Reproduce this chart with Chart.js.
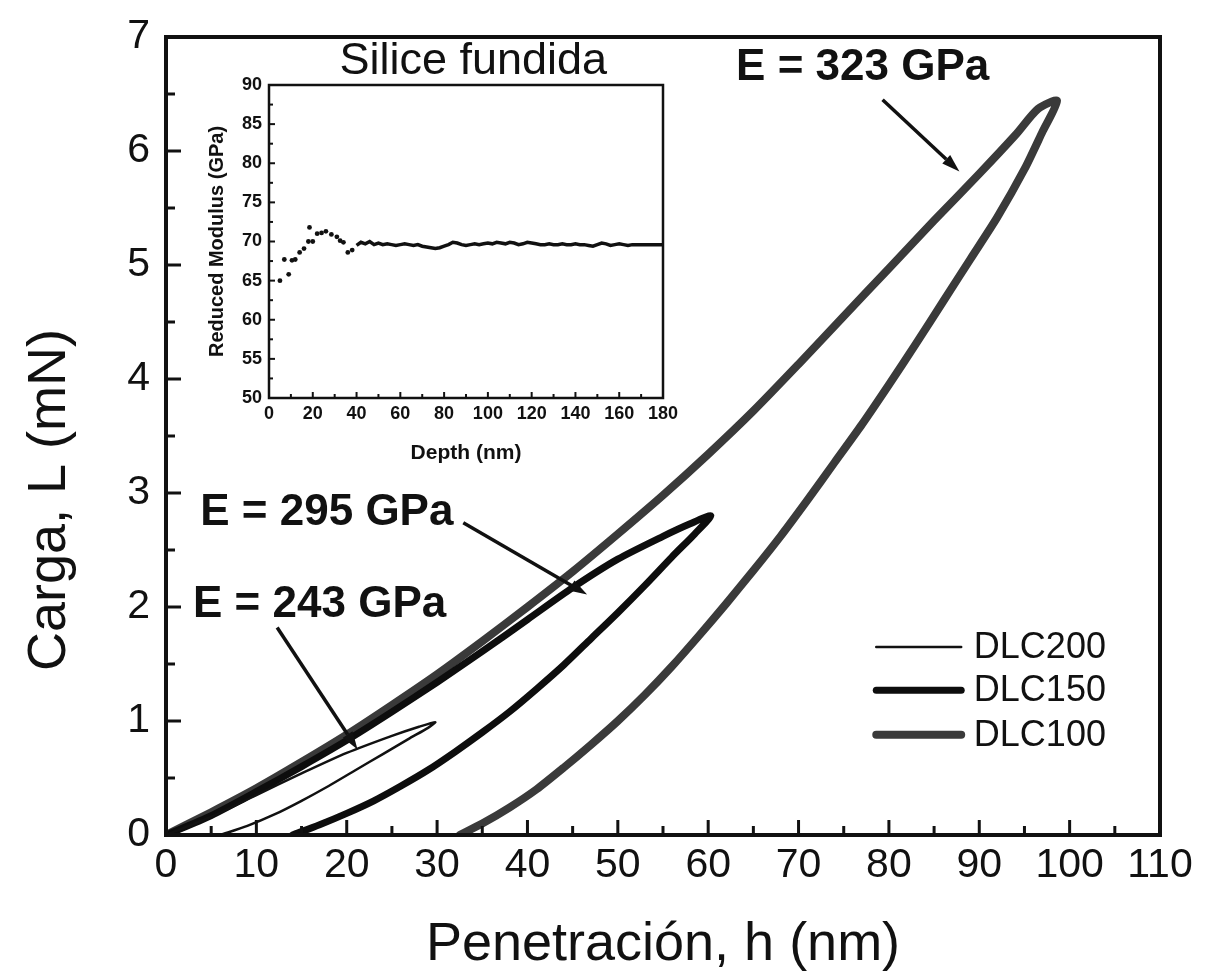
<!DOCTYPE html>
<html>
<head>
<meta charset="utf-8">
<script src="https://cdn.jsdelivr.net/npm/chart.js@4.4.1/dist/chart.umd.min.js"></script>
<style>
  body { margin: 0; background: #fff; }
  #wrap { position: relative; width: 1206px; height: 976px; }
  #main { position: absolute; left: 0; top: 0; }
  #inset { position: absolute; left: 190px; top: 60px; }
</style>
</head>
<body>
<div id="wrap">
  <canvas id="main" width="1206" height="976"></canvas>
  <canvas id="inset" width="510" height="415"></canvas>
</div>
<script>
// ---- data: load-unload curves (h in nm, L in mN), loading then unloading ----
const dlc200H = [0, 5, 10, 15, 20, 25, 28, 29.8, 29, 27, 24, 21, 18, 15, 12, 9, 6];
const dlc200L = [0, 0.16, 0.35, 0.54, 0.72, 0.87, 0.95, 0.99, 0.94, 0.85, 0.71, 0.57, 0.43, 0.30, 0.18, 0.08, 0];

const dlc150H = [0, 5, 10, 15, 20, 25, 30, 35, 40, 45, 50, 55, 58, 60.3, 58.5, 56, 53, 50, 47, 44, 41, 38, 35, 32, 29, 26, 23, 20, 17, 14];
const dlc150L = [0, 0.17, 0.38, 0.60, 0.83, 1.08, 1.34, 1.61, 1.89, 2.17, 2.42, 2.62, 2.73, 2.80, 2.64, 2.44, 2.19, 1.95, 1.72, 1.49, 1.28, 1.08, 0.90, 0.73, 0.57, 0.43, 0.30, 0.19, 0.09, 0];

const dlc100H = [0, 5, 10, 15, 20, 25, 30, 35, 40, 45, 50, 55, 60, 65, 70, 75, 80, 85, 90, 94, 96.5, 98.6, 97, 95, 92, 89, 86, 83, 80, 77, 74, 71, 68, 65, 62, 59, 56, 53, 50, 47, 44, 41, 38, 35, 32.5];
const dlc100L = [0, 0.20, 0.41, 0.64, 0.88, 1.14, 1.41, 1.70, 2.00, 2.31, 2.64, 2.98, 3.34, 3.72, 4.13, 4.55, 4.97, 5.39, 5.80, 6.14, 6.37, 6.44, 6.17, 5.84, 5.42, 5.05, 4.68, 4.31, 3.95, 3.60, 3.27, 2.94, 2.62, 2.32, 2.03, 1.75, 1.48, 1.23, 1.00, 0.79, 0.59, 0.40, 0.24, 0.10, 0];

const seriesNames = ['DLC200', 'DLC150', 'DLC100'];
const xTickVals = [0, 10, 20, 30, 40, 50, 60, 70, 80, 90, 100, 110];
const yTickVals = [0, 1, 2, 3, 4, 5, 6, 7];

// ---- inset data: reduced modulus vs depth (silice fundida) ----
const insetDotsX = [5, 7, 9, 10.5, 12, 14, 16, 18, 18.5, 20, 22, 24, 26, 28.5, 31, 32.5, 34, 36, 38];
const insetDotsY = [65.0, 67.7, 65.8, 67.6, 67.7, 68.6, 69.1, 70.0, 71.8, 70.0, 71.0, 71.1, 71.3, 70.9, 70.6, 70.1, 69.9, 68.6, 68.9];
const insetLineX = [40, 42, 44, 46, 48, 50, 52, 54, 56, 58, 60, 62, 64, 66, 68, 70, 72, 74, 76, 78,
  80, 82, 84, 86, 88, 90, 92, 94, 96, 98, 100, 102, 104, 106, 108, 110, 112, 114, 116, 118,
  120, 122, 124, 126, 128, 130, 132, 134, 136, 138, 140, 142, 144, 146, 148, 150, 152, 154, 156, 158,
  160, 162, 164, 166, 168, 170, 172, 174, 176, 178, 180];
const insetLineY = [69.5, 69.9, 69.7, 70.0, 69.6, 69.8, 69.6, 69.7, 69.6, 69.5, 69.6, 69.7, 69.6, 69.5, 69.6, 69.4, 69.3, 69.2, 69.1, 69.2,
  69.4, 69.6, 69.9, 69.8, 69.6, 69.5, 69.6, 69.7, 69.6, 69.7, 69.8, 69.7, 69.9, 69.8, 69.7, 69.9, 69.8, 69.6, 69.7, 69.9,
  69.8, 69.7, 69.6, 69.6, 69.7, 69.6, 69.6, 69.7, 69.6, 69.6, 69.7, 69.6, 69.6, 69.5, 69.4, 69.6, 69.8, 69.7, 69.5, 69.6,
  69.7, 69.6, 69.5, 69.6, 69.6, 69.6, 69.6, 69.6, 69.6, 69.6, 69.6];
const insetXTicks = [0, 20, 40, 60, 80, 100, 120, 140, 160, 180];
const insetYTicks = [50, 55, 60, 65, 70, 75, 80, 85, 90];

const FONT = '"Liberation Sans", Arial, Helvetica, sans-serif';
const INK = '#111';

function pts(xs, ys) {
  return xs.map((x, i) => ({ x: x, y: ys[i] }));
}

// fixed axis box, no extra room for overhanging labels
function fixSize(w, h) {
  return s => {
    if (w) s.width = w;
    if (h) s.height = h;
    s.paddingTop = 0; s.paddingBottom = 0; s.paddingLeft = 0; s.paddingRight = 0;
  };
}

// annotations in data units
const notes = [
  { text: 'E = 323 GPa', at: [77.1, 6.73], from: [79.3, 6.45], to: [87.8, 5.82] },
  { text: 'E = 295 GPa', at: [17.8, 2.83], from: [32.9, 2.74], to: [46.6, 2.11] },
  { text: 'E = 243 GPa', at: [17.0, 2.02], from: [12.3, 1.82], to: [21.2, 0.75] }
];

function arrow(ctx, x1, y1, x2, y2, w, head) {
  const ang = Math.atan2(y2 - y1, x2 - x1);
  const bx = x2 - head * Math.cos(ang), by = y2 - head * Math.sin(ang);
  ctx.lineWidth = w;
  ctx.beginPath();
  ctx.moveTo(x1, y1);
  ctx.lineTo(bx, by);
  ctx.stroke();
  const hw = head * 0.32;
  ctx.beginPath();
  ctx.moveTo(x2, y2);
  ctx.lineTo(bx + hw * Math.sin(ang), by - hw * Math.cos(ang));
  ctx.lineTo(bx - hw * Math.sin(ang), by + hw * Math.cos(ang));
  ctx.closePath();
  ctx.fill();
}

// box + inward ticks (major and mid minor) on bottom and left
function boxTicks(chart, xt, yt, o) {
  const { ctx, chartArea: a, scales: { x, y } } = chart;
  ctx.save();
  ctx.strokeStyle = INK;
  ctx.lineWidth = o.tickW;
  const xs = [];
  xt.forEach((v, i) => { xs.push([v, o.major]); if (i < xt.length - 1) xs.push([(v + xt[i + 1]) / 2, o.minor]); });
  xs.forEach(([v, len]) => {
    const px = x.getPixelForValue(v);
    ctx.beginPath(); ctx.moveTo(px, a.bottom); ctx.lineTo(px, a.bottom - len); ctx.stroke();
  });
  const ys = [];
  yt.forEach((v, i) => { ys.push([v, o.major]); if (i < yt.length - 1) ys.push([(v + yt[i + 1]) / 2, o.minor]); });
  ys.forEach(([v, len]) => {
    const py = y.getPixelForValue(v);
    ctx.beginPath(); ctx.moveTo(a.left, py); ctx.lineTo(a.left + len, py); ctx.stroke();
  });
  ctx.lineWidth = o.boxW;
  ctx.strokeRect(a.left, a.top, a.right - a.left, a.bottom - a.top);
  ctx.restore();
}

const mainDecor = {
  id: 'mainDecor',
  afterDatasetsDraw(chart) {
    const { ctx, scales: { x, y } } = chart;
    boxTicks(chart, xTickVals, yTickVals, { major: 15, minor: 9, tickW: 3, boxW: 4 });
    ctx.save();
    ctx.fillStyle = INK;
    ctx.strokeStyle = INK;
    // annotations
    ctx.font = 'bold 44px ' + FONT;
    ctx.textAlign = 'center';
    ctx.textBaseline = 'middle';
    notes.forEach(n => {
      ctx.fillText(n.text, x.getPixelForValue(n.at[0]), y.getPixelForValue(n.at[1]));
      arrow(ctx, x.getPixelForValue(n.from[0]), y.getPixelForValue(n.from[1]),
        x.getPixelForValue(n.to[0]), y.getPixelForValue(n.to[1]), 3.5, 18);
    });
    // inset title
    ctx.font = '45px ' + FONT;
    ctx.fillText('Silice fundida', x.getPixelForValue(34.0), y.getPixelForValue(6.78));
    // legend
    ctx.font = '36px ' + FONT;
    ctx.textAlign = 'left';
    const legY = [1.65, 1.27, 0.88];
    chart.data.datasets.forEach((ds, i) => {
      const py = y.getPixelForValue(legY[i]);
      ctx.strokeStyle = ds.borderColor;
      ctx.lineWidth = ds.borderWidth;
      ctx.lineCap = 'round';
      ctx.beginPath();
      ctx.moveTo(x.getPixelForValue(78.6), py);
      ctx.lineTo(x.getPixelForValue(88.0), py);
      ctx.stroke();
      ctx.fillText(ds.label, x.getPixelForValue(89.4), py + 1);
    });
    // y axis title
    ctx.translate(50, 500);
    ctx.rotate(-Math.PI / 2);
    ctx.textAlign = 'center';
    ctx.font = '54px ' + FONT;
    ctx.fillText('Carga, L (mN)', 0, 0);
    ctx.restore();
  }
};

new Chart(document.getElementById('main'), {
  type: 'line',
  data: {
    datasets: [
      { label: seriesNames[0], data: pts(dlc200H, dlc200L), borderColor: '#111', borderWidth: 2.5, order: 0 },
      { label: seriesNames[1], data: pts(dlc150H, dlc150L), borderColor: '#0d0d0d', borderWidth: 7, order: 1 },
      { label: seriesNames[2], data: pts(dlc100H, dlc100L), borderColor: '#3a3a3a', borderWidth: 8, order: 2 }
    ]
  },
  options: {
    responsive: false,
    animation: false,
    elements: {
      point: { radius: 0 },
      line: { tension: 0.25, fill: false, borderCapStyle: 'round', borderJoinStyle: 'round' }
    },
    layout: { padding: { left: 0, top: 37, right: 46, bottom: 0 } },
    plugins: { legend: { display: false }, tooltip: { enabled: false } },
    scales: {
      x: {
        type: 'linear', min: 0, max: 110,
        grid: { display: false, drawTicks: false },
        border: { display: false },
        afterBuildTicks: s => { s.ticks = xTickVals.map(v => ({ value: v })); },
        afterFit: fixSize(0, 141),
        ticks: { font: { size: 41, family: FONT }, color: INK, padding: 6, maxRotation: 0, autoSkip: false },
        title: { display: true, text: 'Penetración, h (nm)', font: { size: 54, family: FONT, lineHeight: 1.15 }, color: INK, padding: { top: 0, bottom: 0 } }
      },
      y: {
        type: 'linear', min: 0, max: 7,
        grid: { display: false, drawTicks: false },
        border: { display: false },
        afterBuildTicks: s => { s.ticks = yTickVals.map(v => ({ value: v })); },
        afterFit: fixSize(166, 0),
        ticks: { font: { size: 41, family: FONT }, color: INK, padding: 16 }
      }
    }
  },
  plugins: [mainDecor]
});

// ---- inset ----
const insetDecor = {
  id: 'insetDecor',
  afterDatasetsDraw(chart) {
    boxTicks(chart, insetXTicks, insetYTicks, { major: 6, minor: 4, tickW: 2, boxW: 2.5 });
  }
};

new Chart(document.getElementById('inset'), {
  type: 'line',
  data: {
    datasets: [
      { data: pts(insetDotsX, insetDotsY), showLine: false, pointRadius: 2.4, pointBackgroundColor: INK, pointBorderWidth: 0 },
      { data: pts(insetLineX, insetLineY), borderColor: INK, borderWidth: 3.5, pointRadius: 0, tension: 0 }
    ]
  },
  options: {
    responsive: false,
    animation: false,
    layout: { padding: { left: 0, top: 25, right: 37, bottom: 0 } },
    plugins: { legend: { display: false }, tooltip: { enabled: false } },
    scales: {
      x: {
        type: 'linear', min: 0, max: 180,
        grid: { display: false, drawTicks: false },
        border: { display: false },
        afterBuildTicks: s => { s.ticks = insetXTicks.map(v => ({ value: v })); },
        afterFit: fixSize(0, 77),
        ticks: { font: { size: 18, family: FONT, weight: 'bold' }, color: INK, padding: 5, maxRotation: 0, autoSkip: false },
        title: { display: true, text: 'Depth (nm)', font: { size: 21, family: FONT, weight: 'bold' }, color: INK, padding: { top: 0, bottom: 9 } }
      },
      y: {
        type: 'linear', min: 50, max: 90,
        grid: { display: false, drawTicks: false },
        border: { display: false },
        afterBuildTicks: s => { s.ticks = insetYTicks.map(v => ({ value: v })); },
        afterFit: fixSize(79, 0),
        ticks: { font: { size: 18, family: FONT, weight: 'bold' }, color: INK, padding: 7 },
        title: { display: true, text: 'Reduced Modulus (GPa)', font: { size: 20, family: FONT, weight: 'bold' }, color: INK, padding: { top: 15, bottom: 0 } }
      }
    }
  },
  plugins: [insetDecor]
});
</script>
</body>
</html>
